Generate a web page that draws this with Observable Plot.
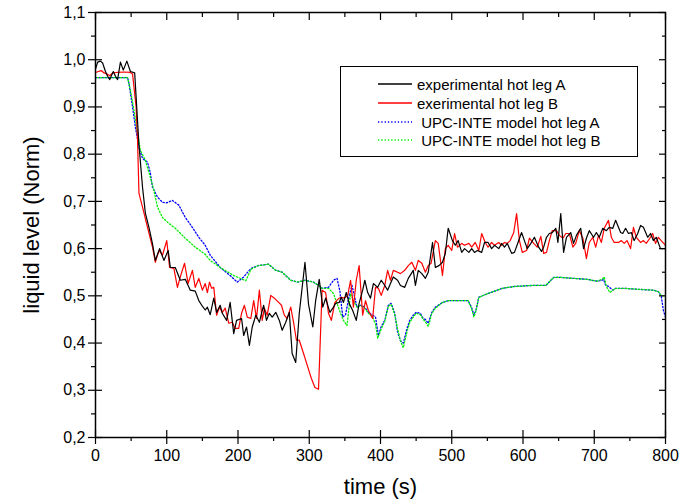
<!DOCTYPE html>
<html>
<head>
<meta charset="utf-8">
<script src="https://cdn.jsdelivr.net/npm/d3@7"></script>
<script src="https://cdn.jsdelivr.net/npm/@observablehq/plot@0.6"></script>
<style>
  html, body { margin: 0; padding: 0; background: #fff; }
  #wrap { position: relative; width: 679px; height: 504px; font-family: "Liberation Sans", Arial, sans-serif; }
  #legend { position: absolute; left: 340px; top: 66px; width: 298px; height: 91px; border: 1px solid #000; background: #fff; box-sizing: border-box; }
  .row { position: absolute; left: 0; height: 18px; display: flex; align-items: center; font-size: 15px; color: #000; }
  .row svg { margin-left: 37px; margin-right: 5px; }
</style>
</head>
<body>
<div id="wrap"></div>
<script>
// ---- data ----
const seriesNames = ["experimental hot leg A", "exerimental hot leg B", " UPC-INTE model hot leg A", " UPC-INTE model hot leg B"];

const expA = [[0,0.98],[3,0.995],[7,0.997],[10,0.993],[14,0.975],[17,0.965],[20,0.958],[25,0.975],[28,0.965],[31,0.958],[35,0.995],[39,0.978],[44,0.997],[49,0.975],[55,0.972],[61,0.82],[66,0.73],[70,0.675],[75,0.645],[80,0.61],[84,0.575],[90,0.6],[96,0.575],[102,0.596],[105,0.56],[112,0.56],[119,0.533],[126,0.535],[133,0.512],[140,0.51],[145,0.49],[150,0.478],[154,0.47],[157,0.476],[161,0.46],[166,0.495],[170,0.465],[175,0.48],[178,0.463],[184,0.448],[189,0.486],[194,0.42],[198,0.448],[205,0.452],[208,0.416],[212,0.434],[216,0.395],[220,0.434],[225,0.459],[230,0.444],[233,0.463],[236,0.48],[240,0.448],[244,0.463],[248,0.455],[253,0.465],[258,0.448],[262,0.427],[267,0.444],[272,0.465],[276,0.378],[281,0.359],[286,0.463],[294,0.571],[299,0.482],[305,0.434],[309,0.49],[314,0.535],[319,0.476],[323,0.495],[329,0.465],[334,0.476],[337,0.484],[342,0.486],[345,0.497],[348,0.486],[352,0.507],[356,0.484],[361,0.469],[366,0.448],[370,0.484],[375,0.512],[378,0.533],[382,0.507],[386,0.495],[390,0.526],[396,0.518],[401,0.533],[406,0.522],[410,0.512],[414,0.526],[418,0.54],[424,0.533],[428,0.522],[434,0.518],[439,0.537],[446,0.554],[449,0.522],[453,0.554],[458,0.547],[463,0.537],[467,0.55],[473,0.613],[477,0.56],[482,0.564],[487,0.571],[491,0.59],[495,0.643],[501,0.617],[505,0.607],[509,0.617],[514,0.592],[518,0.6],[524,0.592],[528,0.6],[532,0.592],[536,0.596],[542,0.592],[546,0.613],[551,0.613],[556,0.6],[560,0.607],[566,0.6],[570,0.611],[574,0.603],[578,0.611],[584,0.59],[588,0.592],[593,0.613],[598,0.634],[602,0.617],[606,0.6],[611,0.611],[616,0.624],[622,0.603],[626,0.594],[629,0.603],[633,0.624],[637,0.632],[641,0.634],[646,0.643],[649,0.613],[653,0.674],[657,0.592],[661,0.624],[667,0.634],[671,0.611],[675,0.628],[681,0.643],[685,0.6],[689,0.622],[693,0.638],[699,0.624],[703,0.634],[707,0.624],[712,0.643],[717,0.638],[721,0.645],[726,0.643],[730,0.66],[737,0.634],[740,0.632],[744,0.643],[748,0.632],[752,0.634],[756,0.617],[761,0.632],[765,0.649],[769,0.645],[775,0.624],[779,0.632],[783,0.617],[787,0.624],[793,0.6],[800,0.6]];

const expB = [[0,0.973],[4,0.975],[8,0.977],[12,0.972],[16,0.97],[20,0.966],[24,0.972],[30,0.973],[40,0.974],[49,0.973],[52,0.97],[57,0.9],[59,0.83],[61,0.717],[66,0.688],[73,0.645],[80,0.603],[84,0.571],[89,0.596],[94,0.586],[100,0.617],[104,0.56],[110,0.558],[115,0.518],[119,0.54],[125,0.569],[130,0.526],[136,0.554],[140,0.518],[145,0.537],[150,0.512],[154,0.526],[157,0.507],[160,0.529],[163,0.516],[166,0.518],[170,0.459],[174,0.476],[178,0.465],[182,0.474],[187,0.442],[192,0.444],[196,0.431],[201,0.431],[205,0.463],[209,0.48],[213,0.455],[218,0.452],[222,0.49],[226,0.452],[230,0.512],[234,0.448],[237,0.474],[241,0.459],[246,0.501],[251,0.495],[257,0.486],[261,0.48],[265,0.459],[269,0.452],[274,0.476],[278,0.444],[282,0.406],[286,0.406],[292,0.378],[298,0.349],[303,0.325],[308,0.306],[313,0.302],[318,0.512],[323,0.507],[327,0.463],[331,0.448],[336,0.486],[342,0.495],[345,0.497],[349,0.495],[354,0.501],[358,0.533],[362,0.476],[366,0.533],[370,0.564],[375,0.459],[379,0.49],[383,0.469],[389,0.452],[393,0.518],[397,0.516],[401,0.501],[406,0.522],[410,0.554],[414,0.533],[418,0.554],[424,0.55],[428,0.547],[434,0.554],[439,0.564],[444,0.571],[449,0.554],[453,0.575],[458,0.569],[463,0.55],[467,0.564],[471,0.569],[477,0.617],[481,0.611],[487,0.543],[491,0.6],[495,0.607],[500,0.596],[504,0.632],[508,0.603],[514,0.611],[518,0.607],[524,0.611],[528,0.603],[533,0.613],[538,0.596],[542,0.632],[547,0.613],[551,0.603],[556,0.613],[560,0.607],[566,0.613],[570,0.607],[574,0.613],[578,0.611],[582,0.617],[587,0.634],[591,0.674],[595,0.617],[599,0.592],[605,0.596],[609,0.622],[615,0.611],[620,0.603],[625,0.626],[629,0.59],[633,0.592],[637,0.617],[641,0.638],[647,0.638],[651,0.628],[656,0.622],[660,0.632],[665,0.632],[670,0.603],[674,0.611],[679,0.638],[684,0.622],[689,0.579],[693,0.613],[698,0.624],[702,0.603],[706,0.628],[710,0.613],[714,0.643],[720,0.66],[724,0.624],[728,0.613],[734,0.613],[738,0.617],[742,0.611],[746,0.617],[751,0.6],[755,0.645],[759,0.624],[765,0.613],[769,0.617],[773,0.611],[778,0.622],[782,0.632],[786,0.611],[790,0.624],[794,0.617],[800,0.607]];

const modelA = [[0,0.962],[45,0.962],[47,0.95],[52,0.9],[56,0.857],[61,0.815],[66,0.791],[73,0.783],[77,0.76],[80,0.73],[87,0.709],[94,0.698],[100,0.697],[108,0.702],[117,0.692],[126,0.666],[136,0.645],[145,0.624],[154,0.607],[161,0.586],[175,0.56],[189,0.543],[199,0.529],[208,0.54],[218,0.558],[228,0.564],[243,0.567],[253,0.554],[262,0.55],[274,0.533],[284,0.529],[294,0.533],[306,0.529],[313,0.522],[318,0.516],[327,0.518],[334,0.533],[339,0.537],[343,0.51],[347,0.455],[351,0.46],[356,0.5],[360,0.522],[367,0.476],[372,0.48],[378,0.476],[383,0.465],[389,0.459],[393,0.455],[397,0.416],[401,0.435],[406,0.448],[411,0.48],[415,0.484],[420,0.463],[424,0.423],[428,0.405],[432,0.4],[437,0.43],[441,0.448],[446,0.459],[450,0.465],[456,0.463],[460,0.452],[463,0.45],[467,0.442],[472,0.465],[477,0.476],[487,0.486],[496,0.49],[509,0.49],[523,0.49],[528,0.475],[531,0.459],[534,0.47],[538,0.497],[551,0.505],[571,0.516],[589,0.52],[613,0.522],[632,0.522],[643,0.539],[653,0.539],[671,0.537],[690,0.535],[704,0.531],[711,0.533],[713,0.535],[716,0.522],[720,0.52],[726,0.512],[730,0.516],[741,0.516],[760,0.514],[783,0.512],[790,0.509],[794,0.5],[797,0.469],[800,0.455]];

const modelB = [[0,0.962],[45,0.962],[49,0.935],[54,0.893],[59,0.844],[63,0.808],[70,0.787],[77,0.751],[82,0.723],[87,0.688],[94,0.666],[101,0.656],[112,0.643],[126,0.622],[140,0.603],[154,0.588],[161,0.575],[175,0.56],[194,0.543],[211,0.532],[218,0.556],[228,0.564],[243,0.567],[253,0.554],[262,0.55],[274,0.533],[284,0.529],[294,0.533],[306,0.529],[313,0.522],[318,0.516],[327,0.516],[334,0.505],[339,0.484],[344,0.463],[348,0.448],[353,0.437],[358,0.505],[362,0.49],[367,0.476],[372,0.48],[378,0.474],[383,0.463],[389,0.455],[393,0.44],[396,0.41],[401,0.43],[406,0.446],[411,0.478],[415,0.482],[420,0.46],[424,0.43],[428,0.405],[432,0.39],[437,0.423],[441,0.444],[446,0.455],[450,0.463],[456,0.46],[460,0.45],[463,0.445],[467,0.435],[472,0.463],[477,0.474],[487,0.486],[496,0.49],[509,0.49],[523,0.49],[528,0.472],[531,0.455],[534,0.468],[538,0.497],[551,0.505],[571,0.516],[589,0.52],[613,0.522],[632,0.522],[643,0.539],[653,0.539],[671,0.537],[690,0.535],[704,0.531],[711,0.535],[714,0.54],[717,0.52],[722,0.507],[726,0.512],[730,0.516],[741,0.516],[760,0.514],[783,0.512],[790,0.509],[794,0.5],[800,0.5]];

const xMajor = [0, 100, 200, 300, 400, 500, 600, 700, 800];
const xMinor = [50, 150, 250, 350, 450, 550, 650, 750];
const yMajor = [0.2, 0.3, 0.4, 0.5, 0.6, 0.7, 0.8, 0.9, 1.0, 1.1];
const yMinor = [0.25, 0.35, 0.45, 0.55, 0.65, 0.75, 0.85, 0.95, 1.05];

const colors = ["#000000", "#ff0000", "#0000ff", "#00ee00"];
const fmtY = d => d3.format(".1f")(d).replace(".", ",");
const blank = () => "";

const font = "'Liberation Sans', Arial, sans-serif";

const plot = Plot.plot({
  width: 679,
  height: 504,
  marginLeft: 95,
  marginRight: 14,
  marginTop: 12,
  marginBottom: 67,
  style: { fontFamily: font, background: "#fff", color: "#000" },
  x: { domain: [0, 800] },
  y: { domain: [0.2, 1.1] },
  marks: [
    // data
    Plot.line(modelA, { x: d => d[0], y: d => d[1], stroke: colors[2], strokeWidth: 1.3, strokeDasharray: "1.3,2" }),
    Plot.line(modelB, { x: d => d[0], y: d => d[1], stroke: colors[3], strokeWidth: 1.3, strokeDasharray: "1.3,2", strokeDashoffset: 1.6 }),
    Plot.line(expB, { x: d => d[0], y: d => d[1], stroke: colors[1], strokeWidth: 1.2 }),
    Plot.line(expA, { x: d => d[0], y: d => d[1], stroke: colors[0], strokeWidth: 1.2 }),
    // frame
    Plot.frame({ stroke: "#000", strokeWidth: 1.5 }),
    // left axis
    Plot.axisY(yMajor, { anchor: "left", tickSize: 7, tickPadding: 3, tickFormat: fmtY, fontSize: 16, label: null, strokeWidth: 1.2 }),
    Plot.axisY(yMajor, { anchor: "left", tickSize: 7, dx: 7, tickFormat: blank, label: null, strokeWidth: 1.2 }),
    Plot.axisY(yMinor, { anchor: "left", tickSize: 4, tickFormat: blank, label: null, strokeWidth: 1.2 }),
    // right axis (inward)
    Plot.axisY(yMajor, { anchor: "right", tickSize: 7, dx: -7, tickFormat: blank, label: null, strokeWidth: 1.2 }),
    Plot.axisY(yMinor, { anchor: "right", tickSize: 4, dx: -4, tickFormat: blank, label: null, strokeWidth: 1.2 }),
    // bottom axis
    Plot.axisX(xMajor, { anchor: "bottom", tickSize: 7, tickPadding: 5, tickFormat: d => String(d), fontSize: 16, label: null, strokeWidth: 1.2 }),
    Plot.axisX(xMajor, { anchor: "bottom", tickSize: 7, dy: -7, tickFormat: blank, label: null, strokeWidth: 1.2 }),
    Plot.axisX(xMinor, { anchor: "bottom", tickSize: 4, tickFormat: blank, label: null, strokeWidth: 1.2 }),
    // top axis (inward)
    Plot.axisX(xMajor, { anchor: "top", tickSize: 7, dy: 7, tickFormat: blank, label: null, strokeWidth: 1.2 }),
    Plot.axisX(xMinor, { anchor: "top", tickSize: 4, dy: 4, tickFormat: blank, label: null, strokeWidth: 1.2 }),
    // axis titles
    Plot.text(["liquid level (Norm)"], { frameAnchor: "left", textAnchor: "middle", dx: -64, rotate: -90, fontSize: 22, fill: "#000" }),
    Plot.text(["time (s)"], { frameAnchor: "bottom", dy: 56, fontSize: 22, fill: "#000" })
  ]
});

const wrap = document.getElementById("wrap");
wrap.appendChild(plot);

// legend
const legend = document.createElement("div");
legend.id = "legend";
const rowTops = [8, 27, 46, 64];
const dashes = [null, null, "1.3,2", "1.3,2"];
seriesNames.forEach((name, i) => {
  const row = document.createElement("div");
  row.className = "row";
  row.style.top = rowTops[i] + "px";
  const dash = dashes[i] ? `stroke-dasharray="${dashes[i]}"` : "";
  row.innerHTML = `<svg width="34" height="4"><line x1="0" x2="34" y1="2" y2="2" stroke="${colors[i]}" stroke-width="1.3" ${dash}></line></svg><span style="white-space:pre">${name}</span>`;
  legend.appendChild(row);
});
wrap.appendChild(legend);
</script>
</body>
</html>
